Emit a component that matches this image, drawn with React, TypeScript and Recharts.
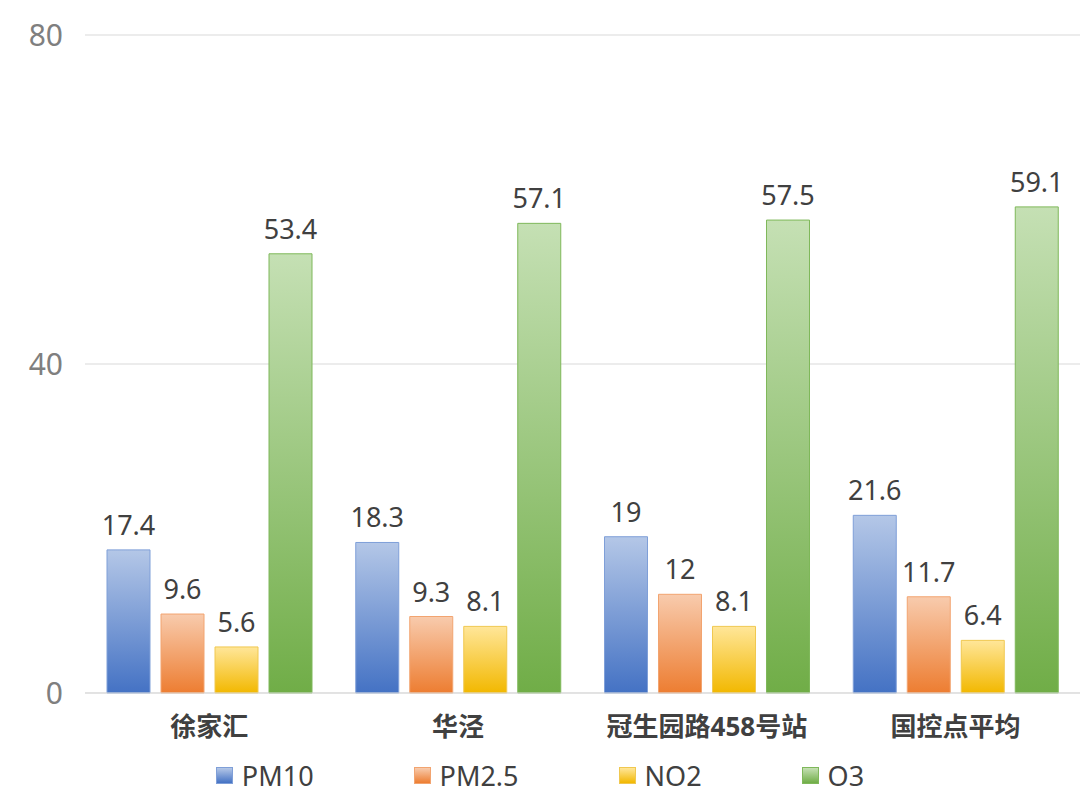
import { BarChart, Bar, XAxis, YAxis, CartesianGrid, Legend, LabelList } from 'recharts'

const stations = ['徐家汇', '华泾', '冠生园路458号站', '国控点平均']
const pm10 = [17.4, 18.3, 19, 21.6]
const pm25 = [9.6, 9.3, 12, 11.7]
const no2 = [5.6, 8.1, 8.1, 6.4]
const o3 = [53.4, 57.1, 57.5, 59.1]
const yTicks = [0, 40, 80]

const data = stations.map((name, i) => ({
  name,
  PM10: pm10[i],
  'PM2.5': pm25[i],
  NO2: no2[i],
  O3: o3[i],
}))

// gradient top/bottom + border for each series
const series = [
  { key: 'PM10', id: 'gPm10', top: '#b4c7e7', bottom: '#4472c4', stroke: '#7f9fd8' },
  { key: 'PM2.5', id: 'gPm25', top: '#f8cbad', bottom: '#ed7d31', stroke: '#f2a470' },
  { key: 'NO2', id: 'gNo2', top: '#ffe699', bottom: '#f2b800', stroke: '#f0c850' },
  { key: 'O3', id: 'gO3', top: '#c5e0b4', bottom: '#70ad47', stroke: '#7fb85a' },
]

const font = '"Noto Sans", "Noto Sans CJK SC", sans-serif'

function ChartLegend() {
  return (
    <div
      style={{
        display: 'flex',
        justifyContent: 'center',
        gap: 100,
        fontFamily: font,
        fontSize: 27,
        color: '#404040',
      }}
    >
      {series.map((s) => (
        <div key={s.key} style={{ display: 'flex', alignItems: 'center', gap: 9 }}>
          <span
            style={{
              width: 15,
              height: 15,
              background: `linear-gradient(${s.top}, ${s.bottom})`,
              border: `1px solid ${s.stroke}`,
              display: 'inline-block',
            }}
          />
          <span>{s.key}</span>
        </div>
      ))}
    </div>
  )
}

export default function App() {
  return (
    <div style={{ position: 'absolute', left: 0, top: 0, width: 1080, height: 807, background: '#fff' }}>
      <BarChart
        width={1080}
        height={807}
        data={data}
        margin={{ top: 35, right: 0, bottom: 0, left: 0 }}
        barSize={43}
        barGap={11}
      >
        <defs>
          {series.map((s) => (
            <linearGradient key={s.id} id={s.id} x1="0" y1="0" x2="0" y2="1">
              <stop offset="0%" stopColor={s.top} />
              <stop offset="100%" stopColor={s.bottom} />
            </linearGradient>
          ))}
        </defs>
        <CartesianGrid vertical={false} stroke="#d9d9d9" />
        <XAxis
          dataKey="name"
          axisLine={{ stroke: '#d9d9d9' }}
          tickLine={false}
          tickSize={0}
          tickMargin={25}
          height={64}
          tick={{ fill: '#404040', fontSize: 26, fontWeight: 'bold', fontFamily: font }}
        />
        <YAxis
          domain={[0, 80]}
          ticks={yTicks}
          width={85}
          axisLine={false}
          tickLine={false}
          tickSize={0}
          tickMargin={22}
          tick={{ fill: '#7f7f7f', fontSize: 30, fontFamily: font }}
        />
        <Legend verticalAlign="bottom" height={50} content={() => <ChartLegend />} />
        {series.map((s) => (
          <Bar
            key={s.key}
            dataKey={s.key}
            fill={`url(#${s.id})`}
            stroke={s.stroke}
            strokeWidth={1}
            isAnimationActive={false}
          >
            <LabelList
              dataKey={s.key}
              position="top"
              offset={15}
              style={{ fill: '#404040', fontSize: 27, fontFamily: font }}
            />
          </Bar>
        ))}
      </BarChart>
    </div>
  )
}
